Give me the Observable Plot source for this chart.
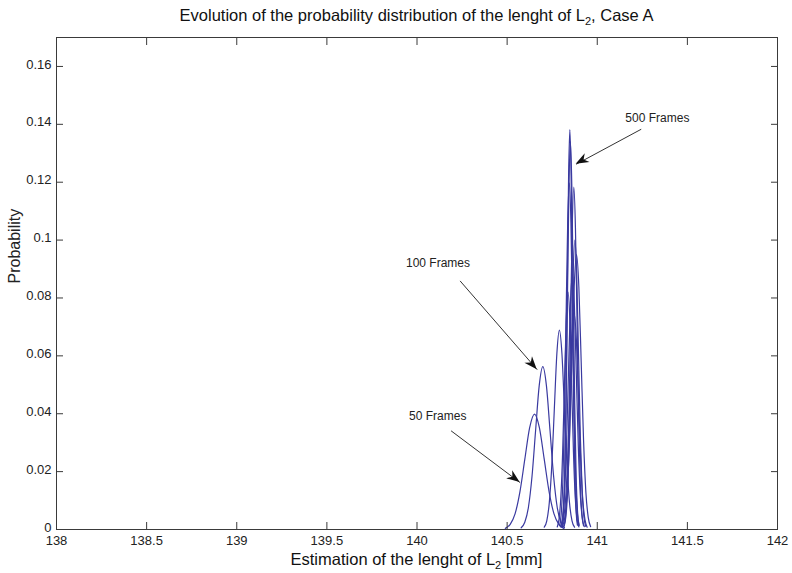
<!DOCTYPE html>
<html><head><meta charset="utf-8">
<script src="https://cdn.jsdelivr.net/npm/d3@7"></script>
<script src="https://cdn.jsdelivr.net/npm/@observablehq/plot@0.6"></script>
<style>
body{margin:0;background:#fff}
#chart svg{font-family:"Liberation Sans",Arial,sans-serif}
</style>
</head><body><div id="chart"></div>
<script>
// Tick values
const xTicks = [138, 138.5, 139, 139.5, 140, 140.5, 141, 141.5, 142];
const yTicks = [0, 0.02, 0.04, 0.06, 0.08, 0.1, 0.12, 0.14, 0.16];

// Probability curves: [length, probability]
const frames50 = [[140.490,0.0004],[140.517,0.0018],[140.544,0.0054],[140.571,0.0130],[140.598,0.0242],[140.625,0.0352],[140.652,0.0399],[140.679,0.0352],[140.706,0.0242],[140.733,0.0130],[140.760,0.0054],[140.787,0.0018],[140.814,0.0004]];
const frames100 = [[140.578,0.0006],[140.598,0.0025],[140.618,0.0076],[140.638,0.0183],[140.658,0.0342],[140.678,0.0497],[140.698,0.0563],[140.718,0.0497],[140.738,0.0342],[140.758,0.0183],[140.778,0.0076],[140.798,0.0025],[140.818,0.0006]];
const framesC = [[140.706,0.0008],[140.720,0.0030],[140.734,0.0093],[140.748,0.0224],[140.762,0.0418],[140.776,0.0608],[140.790,0.0689],[140.804,0.0608],[140.818,0.0418],[140.832,0.0224],[140.846,0.0093],[140.860,0.0030],[140.874,0.0008]];
const frames500 = [[140.806,0.0015],[140.813,0.0061],[140.820,0.0187],[140.827,0.0449],[140.834,0.0839],[140.841,0.1219],[140.848,0.1382],[140.855,0.1219],[140.862,0.0839],[140.869,0.0449],[140.876,0.0187],[140.883,0.0061],[140.890,0.0015]];
const framesE = [[140.803,0.0015],[140.811,0.0059],[140.819,0.0181],[140.827,0.0436],[140.835,0.0813],[140.843,0.1182],[140.851,0.1340],[140.859,0.1182],[140.867,0.0813],[140.875,0.0436],[140.883,0.0181],[140.891,0.0059],[140.899,0.0015]];
const framesF = [[140.791,0.0013],[140.800,0.0053],[140.809,0.0162],[140.818,0.0389],[140.827,0.0727],[140.836,0.1057],[140.845,0.1198],[140.854,0.1057],[140.863,0.0727],[140.872,0.0389],[140.881,0.0162],[140.890,0.0053],[140.899,0.0013]];
const framesG = [[140.816,0.0013],[140.825,0.0052],[140.834,0.0160],[140.843,0.0384],[140.852,0.0718],[140.861,0.1043],[140.870,0.1183],[140.879,0.1043],[140.888,0.0718],[140.897,0.0384],[140.906,0.0160],[140.915,0.0052],[140.924,0.0013]];
const framesH = [[140.816,0.0011],[140.826,0.0044],[140.836,0.0135],[140.846,0.0325],[140.856,0.0607],[140.866,0.0882],[140.876,0.1000],[140.886,0.0882],[140.896,0.0607],[140.906,0.0325],[140.916,0.0135],[140.926,0.0044],[140.936,0.0011]];
const framesI = [[140.807,0.0010],[140.820,0.0042],[140.833,0.0128],[140.846,0.0309],[140.859,0.0577],[140.872,0.0838],[140.885,0.0950],[140.898,0.0838],[140.911,0.0577],[140.924,0.0309],[140.937,0.0128],[140.950,0.0042],[140.963,0.0010]];
const framesJ = [[140.796,0.0010],[140.807,0.0039],[140.818,0.0119],[140.829,0.0286],[140.840,0.0534],[140.851,0.0776],[140.862,0.0880],[140.873,0.0776],[140.884,0.0534],[140.895,0.0286],[140.906,0.0119],[140.917,0.0039],[140.928,0.0010]];
const framesK = [[140.800,0.0008],[140.812,0.0033],[140.824,0.0101],[140.836,0.0242],[140.848,0.0452],[140.860,0.0657],[140.872,0.0745],[140.884,0.0657],[140.896,0.0452],[140.908,0.0242],[140.920,0.0101],[140.932,0.0033],[140.944,0.0008]];
const framesL = [[140.778,0.0009],[140.788,0.0036],[140.798,0.0111],[140.808,0.0267],[140.818,0.0498],[140.828,0.0723],[140.838,0.0820],[140.848,0.0723],[140.858,0.0498],[140.868,0.0267],[140.878,0.0111],[140.888,0.0036],[140.898,0.0009]];
const baseline = [[140.233,0],[141.100,0]];

// Annotations
const annLabels = ["500 Frames", "100 Frames", "50 Frames"];
const annTextX = [141.156, 139.939, 139.956];
const annTextY = [0.1421, 0.0921, 0.0393];
const arrowTailX = [141.244, 140.239, 140.189];
const arrowTailY = [0.1383, 0.0859, 0.0341];
const arrowHeadX = [140.883, 140.667, 140.572];
const arrowHeadY = [0.1262, 0.0552, 0.0162];

const curves = {frames50, frames100, framesC, frames500, framesE, framesF, framesG, framesH, framesI, framesJ, framesK, framesL, baseline};
const curveData = Object.entries(curves).flatMap(([name, pts]) => pts.map(([x, y]) => ({series: name, x, y})));
const arrows = annLabels.map((label, i) => ({
  label, tx: annTextX[i], ty: annTextY[i],
  x1: arrowTailX[i], y1: arrowTailY[i], x2: arrowHeadX[i], y2: arrowHeadY[i]
}));

const axisColor = "#3a3a3a";
const fmt = d => String(d);
const blank = () => "";

const plot = Plot.plot({
  width: 792, height: 573,
  marginLeft: 56, marginRight: 15, marginTop: 37, marginBottom: 44,
  style: {fontFamily: "'Liberation Sans', Arial, sans-serif", fontSize: "13px", background: "#fff", color: "#222", overflow: "visible"},
  x: {domain: [138, 142]},
  y: {domain: [0, 0.17]},
  marks: [
    Plot.line(curveData, {x: "x", y: "y", z: "series", stroke: "#3a3aa0", strokeWidth: 1.2, curve: "monotone-x"}),
    Plot.frame({stroke: axisColor}),
    Plot.axisX({ticks: xTicks, tickSize: -7, tickPadding: 13, tickFormat: fmt, label: null, stroke: axisColor}),
    Plot.axisX({anchor: "top", ticks: xTicks, tickSize: -7, tickFormat: blank, label: null, stroke: axisColor}),
    Plot.axisY({ticks: yTicks, tickSize: -7, tickFormat: blank, label: null, stroke: axisColor}),
    Plot.axisY({ticks: yTicks, tickSize: 0, tickPadding: 5, dy: -2, tickFormat: fmt, label: null}),
    Plot.axisY({anchor: "right", ticks: yTicks, tickSize: -7, tickFormat: blank, label: null, stroke: axisColor}),
    Plot.link(arrows, {x1: "x1", y1: "y1", x2: "x2", y2: "y2", stroke: "#333", strokeWidth: 1}),
    Plot.text(arrows, {x: "tx", y: "ty", text: "label", textAnchor: "start", fontSize: 12, fill: "#222"}),
    Plot.text(["Probability"], {frameAnchor: "left", rotate: -90, dx: -42, fontSize: 16, fill: "#222"})
  ]
});
document.getElementById("chart").appendChild(plot);

const svg = d3.select(plot);
const xs = plot.scale("x"), ys = plot.scale("y");
const cx = (xs.range[0] + xs.range[1]) / 2;

// Filled arrowheads
arrows.forEach(a => {
  const p1 = [xs.apply(a.x1), ys.apply(a.y1)], p2 = [xs.apply(a.x2), ys.apply(a.y2)];
  const dx = p2[0] - p1[0], dy = p2[1] - p1[1], len = Math.hypot(dx, dy);
  const u = [dx / len, dy / len], n = [-u[1], u[0]];
  const L = 13, W = 5, N = 9;
  const pts = [
    p2,
    [p2[0] - u[0] * L + n[0] * W, p2[1] - u[1] * L + n[1] * W],
    [p2[0] - u[0] * N, p2[1] - u[1] * N],
    [p2[0] - u[0] * L - n[0] * W, p2[1] - u[1] * L - n[1] * W]
  ];
  svg.append("path").attr("d", "M" + pts.map(p => p.join(",")).join("L") + "Z").attr("fill", "#111");
});

// Title with subscript
const title = svg.append("text").attr("x", cx).attr("y", 21).attr("text-anchor", "middle")
  .attr("font-size", 16.5).attr("fill", "#111");
title.append("tspan").text("Evolution of the probability distribution of the lenght of L");
title.append("tspan").attr("font-size", 11).attr("dy", 4).text("2");
title.append("tspan").attr("dy", -4).text(", Case A");

// X label with subscript
const xl = svg.append("text").attr("x", cx).attr("y", 565).attr("text-anchor", "middle")
  .attr("font-size", 16.5).attr("fill", "#111");
xl.append("tspan").text("Estimation of the lenght of L");
xl.append("tspan").attr("font-size", 11).attr("dy", 4).text("2");
xl.append("tspan").attr("dy", -4).text(" [mm]");
</script>
</body></html>
